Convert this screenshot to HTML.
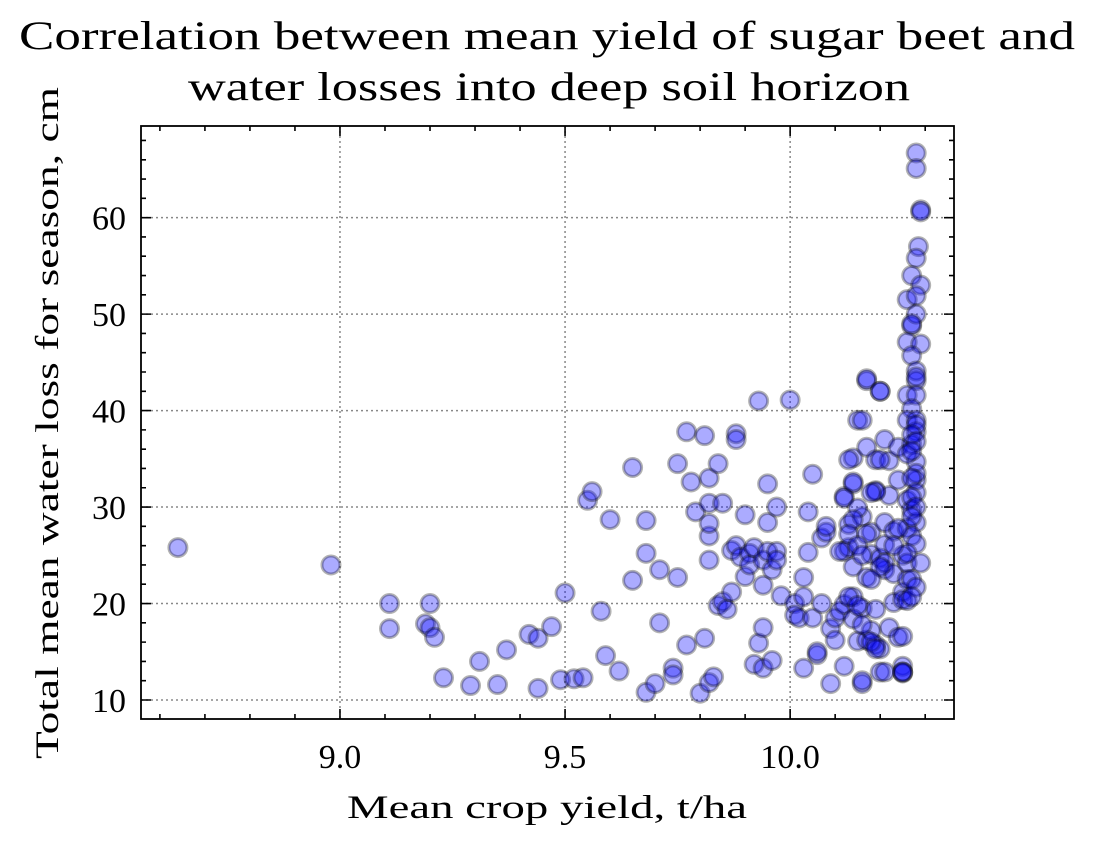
<!DOCTYPE html>
<html><head><meta charset="utf-8"><style>
body{margin:0;background:#fff}
svg text{font-family:"Liberation Serif",serif;fill:#000}
</style></head><body>
<svg id="chart" width="1095" height="845" viewBox="0 0 1095 845">
<text x="547" y="49" font-size="40" text-anchor="middle" textLength="1056" lengthAdjust="spacingAndGlyphs">Correlation between mean yield of sugar beet and</text>
<text x="549" y="100" font-size="40" text-anchor="middle" textLength="722" lengthAdjust="spacingAndGlyphs">water losses into deep soil horizon</text>
<text x="547" y="818" font-size="33" text-anchor="middle" textLength="400" lengthAdjust="spacingAndGlyphs">Mean crop yield, t/ha</text>
<text transform="translate(58,423) rotate(-90)" font-size="33" text-anchor="middle" textLength="672" lengthAdjust="spacingAndGlyphs">Total mean water loss for season, cm</text>
<g id="grid"></g><g id="pts"></g><g id="axes"></g>
</svg>
<script>
const xTicks=[9.0,9.5,10.0];
const xTickLabels=["9.0","9.5","10.0"];
const yTicks=[10,20,30,40,50,60];
const yTickLabels=["10","20","30","40","50","60"];
const yieldX=[
8.64,8.98,9.11,9.11,9.20,9.19,9.20,9.21,9.23,9.29,
9.31,9.35,9.37,9.42,9.44,9.44,9.47,9.49,9.50,9.52,
9.54,9.55,9.56,9.58,9.59,9.60,9.62,9.65,9.65,9.68,
9.68,9.68,9.70,9.71,9.71,9.75,9.74,9.74,9.75,9.77,
9.77,9.78,9.79,9.80,9.81,9.81,9.82,9.82,9.82,9.82,
9.82,9.82,9.83,9.84,9.84,9.85,9.85,9.86,9.87,9.87,
9.88,9.88,9.88,9.89,9.90,9.90,9.91,9.91,9.92,9.92,
9.93,9.93,9.94,9.94,9.94,9.95,9.94,9.95,9.95,9.96,
9.96,9.97,9.97,9.97,9.98,10.00,10.01,10.01,10.02,10.03,
10.03,10.03,10.04,10.04,10.05,10.05,10.06,10.06,10.07,10.07,
10.08,10.08,10.09,10.09,10.10,10.10,10.11,10.12,10.12,10.12,
10.12,10.13,10.13,10.14,10.14,10.14,10.14,10.15,10.15,10.16,
10.16,10.16,10.17,10.17,10.17,10.17,10.18,10.18,10.19,10.19,
10.19,10.19,10.20,10.20,10.20,10.21,10.21,10.21,10.21,10.21,
10.22,10.22,10.22,10.23,10.23,10.23,10.24,10.24,10.24,10.25,
10.25,10.25,10.25,10.25,10.25,10.25,10.25,10.26,10.26,10.26,
10.28,10.28,10.29,10.29,10.285,10.28,10.27,10.29,10.26,10.28,
10.27,10.26,10.29,10.27,10.28,10.28,10.26,10.28,10.27,10.26,
10.28,10.28,10.27,10.28,10.26,10.28,10.26,10.27,10.28,10.26,
10.27,10.28,10.26,10.29,10.27,10.28,10.27,10.28,10.27,10.28,
10.27,10.28,10.27,10.28,10.27,10.28,10.27,10.28,10.27,10.28,
10.17,10.20,10.16,10.13,10.20,10.14,10.19,10.18,10.12,10.15,
10.14,10.24,10.13,10.17,10.11,10.15,10.23,10.16,10.20,10.18,
10.21,10.16,10.18,10.20,10.18,10.19,10.14,10.16,10.13,10.15];
const lossY=[
25.8,24.0,20.0,17.4,20.0,17.9,17.5,16.5,12.3,11.5,
14.0,11.6,15.2,16.8,11.2,16.4,17.6,12.1,21.1,12.2,
12.3,30.7,31.6,19.2,14.6,28.7,13.0,22.4,34.1,28.6,
25.2,10.8,11.7,18.0,23.5,22.7,13.3,12.6,34.5,15.7,
37.8,32.6,29.5,10.7,16.4,37.4,27.0,28.3,33.0,11.8,
30.4,24.5,12.4,19.8,34.5,30.4,20.2,19.4,25.5,21.2,
37.6,37.0,26.0,24.8,22.8,29.2,25.2,24.0,25.8,13.7,
15.9,41.0,13.3,24.5,21.9,28.4,17.5,25.4,32.4,14.1,
23.5,25.4,30.0,24.5,20.8,41.1,20.0,18.8,18.5,22.7,
20.7,13.3,25.3,29.5,33.4,18.5,14.7,15.0,20.0,26.8,
27.4,28.0,11.7,17.4,16.2,18.5,19.2,13.5,19.9,31.1,
25.4,28.2,25.8,23.8,35.1,32.4,20.7,16.1,39.0,11.7,
29.0,19.5,43.1,22.7,36.2,16.2,25.1,27.4,15.7,19.4,
31.7,34.9,24.7,42.0,12.9,37.0,28.4,26.1,23.5,24.2,
31.2,17.5,34.8,23.1,27.5,20.1,32.8,36.2,16.5,13.5,
12.8,21.2,20.4,25.0,12.9,12.9,16.6,20.3,22.5,24.2,
66.7,65.1,60.8,60.6,57.0,55.8,54.0,53.0,51.5,51.9,
48.8,47.1,46.9,45.7,44.1,43.1,41.6,41.6,40.2,39.0,
39.0,37.8,36.5,34.7,35.5,32.8,30.7,29.7,28.4,27.8,
27.0,26.2,25.2,24.2,22.5,21.7,20.7,50.0,49.0,38.5,
37.5,36.8,35.8,33.5,33.0,31.5,31.0,30.0,29.0,43.5,
43.3,42.0,39.0,34.9,34.9,32.6,31.6,31.5,30.9,29.9,
28.7,27.8,27.2,27.2,25.4,26.0,26.0,25.0,23.8,22.5,
12.9,12.0,17.2,15.3,16.0,15.3,18.4,17.8,20.7,19.8];
const X0=8.558,X1=10.364,Y0=8.03,Y1=69.5;
const L=141,R=954,T=126,B=719;
const sx=v=>L+(v-X0)/(X1-X0)*(R-L);
const sy=v=>B-(v-Y0)/(Y1-Y0)*(B-T);
const NS="http://www.w3.org/2000/svg";
function mk(tag,parent,attrs){const e=document.createElementNS(NS,tag);for(const k in attrs)e.setAttribute(k,attrs[k]);parent.appendChild(e);return e;}
const grid=document.getElementById('grid'),pts=document.getElementById('pts'),axes=document.getElementById('axes');
xTicks.forEach((v,i)=>{
 const g=mk('line',grid,{x1:sx(v),x2:sx(v),y1:T,y2:B,stroke:'#888','stroke-width':1.5,'stroke-dasharray':'2,3'});
 
 
 const t=mk('text',axes,{x:sx(v),y:768,'font-size':34,'text-anchor':'middle'});
 t.textContent=xTickLabels[i];
 
 
});
yTicks.forEach((v,i)=>{
 const g=mk('line',grid,{x1:L,x2:R,y1:sy(v),y2:sy(v),stroke:'#888','stroke-width':1.5,'stroke-dasharray':'2,3'});
 
 
 const t=mk('text',axes,{x:126,y:sy(v)+12,'font-size':34,'text-anchor':'end'});
 t.textContent=yTickLabels[i];
 
 
});
const n=Math.min(yieldX.length,lossY.length);
for(let i=0;i<n;i++){
 const c=mk('circle',pts,{cx:sx(yieldX[i]),cy:sy(lossY[i]),r:9,fill:'rgba(0,0,255,0.33)',stroke:'rgba(0,0,0,0.3)','stroke-width':3});
 
 
}
const frame=mk('rect',axes,{x:L,y:T,width:R-L,height:B-T,fill:'none',stroke:'#000','stroke-width':1.8});


let d='';
for(let k=86;k<=103;k++){const v=k/10,x=sx(v),len=(k%5===0)?10:5;d+=`M${x},${B}v${-len}M${x},${T}v${len}`;}
for(let v=10;v<=68;v+=2){const y=sy(v),len=(v%10===0)?10:5;d+=`M${L},${y}h${len}M${R},${y}h${-len}`;}
const tk=mk('path',axes,{d:d,stroke:'#000','stroke-width':1.6,fill:'none'});


</script>
</body></html>
